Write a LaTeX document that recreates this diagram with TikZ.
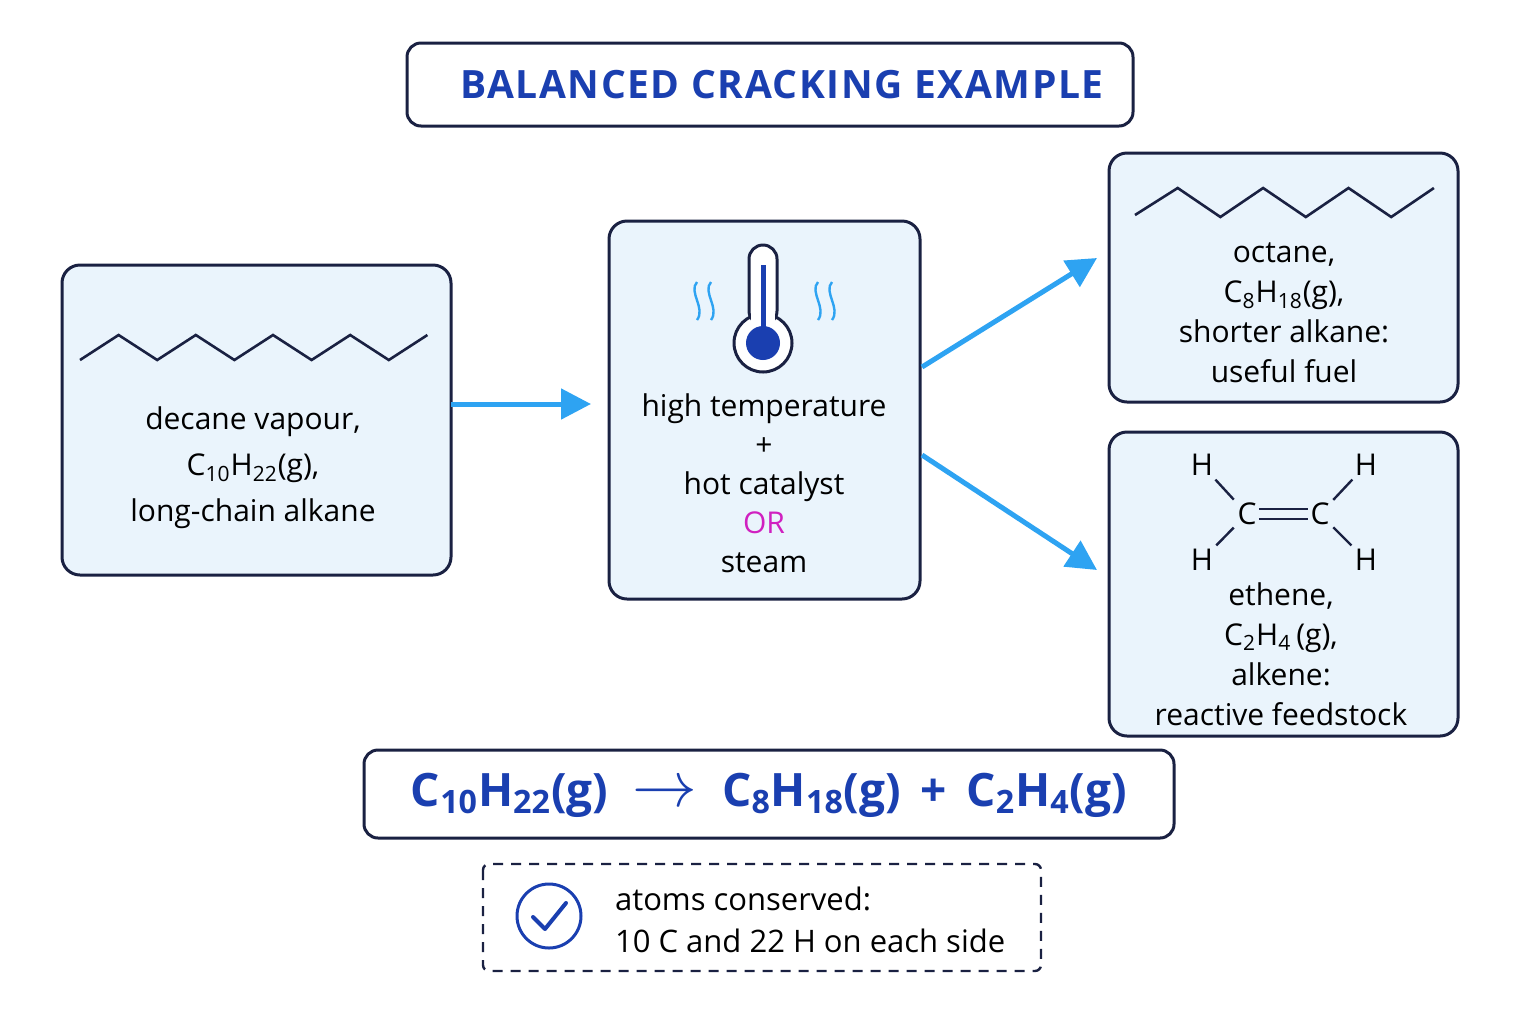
\documentclass[tikz,border=0pt]{standalone}
\usepackage{fontspec}
\setmainfont{Open Sans}
\newfontfamily\titlefont[LetterSpace=4]{Open Sans}
\usetikzlibrary{arrows.meta}
\definecolor{navy}{HTML}{1A2142}
\definecolor{boxfill}{HTML}{EAF4FC}
\definecolor{flow}{HTML}{2EA3F2}
\definecolor{ink}{HTML}{1A3FB0}
\definecolor{ormag}{HTML}{D020C0}
\begin{document}
\begin{tikzpicture}[x=0.5pt,y=-0.5pt,
  box/.style={draw=navy,line width=1.5pt,rounded corners=9pt,fill=boxfill},
  plain box/.style={draw=navy,line width=1.5pt,rounded corners=7pt,fill=white},
  txt/.style={align=center,text=black,font=\fontsize{15}{20}\selectfont},
  flow arrow/.style={draw=flow,line width=2.5pt,-{Triangle[length=15pt,width=15pt]}},
  chain/.style={navy,line width=1.3pt,line join=miter},
  atom/.style={font=\fontsize{15}{18}\selectfont,inner sep=1pt}]
  \useasboundingbox (0,0) rectangle (1536,1024);

  % title
  \draw[plain box] (407,43) rectangle (1133,126);
  \node[text=ink,font=\titlefont\bfseries\fontsize{19.5}{22}\selectfont] (title) at (782,85) {BALANCED CRACKING EXAMPLE};

  % decane
  \draw[box] (62,265) rectangle (451,575);
  \coordinate (decane out) at (451,404);
  \draw[chain] (80,360) \foreach \i in {1,...,9} {-- ({80+\i*38.6},{360-25*mod(\i,2)})};
  \node[txt,font=\fontsize{15}{23}\selectfont] (decane) at (253,468) {decane vapour,\\C\textsubscript{10}H\textsubscript{22}(g),\\long-chain alkane};

  % conditions
  \draw[box] (609,221) rectangle (920,599);
  \coordinate (cond in) at (609,404);
  \coordinate (cond up) at (922,367);
  \coordinate (cond down) at (922,455);
  \draw[navy,line width=1.5pt,fill=white] (763,343) circle (29);
  \draw[navy,line width=1.5pt,fill=white,rounded corners=7pt] (749,245) rectangle (777,325);
  \fill[white] (751,305) rectangle (775,336);
  \fill[ink] (763,343) circle (17);
  \draw[ink,line width=2.5pt] (763,265) -- (763,335);
  \foreach \x in {697,711,818,832}
    \draw[flow,line width=1.2pt] (\x,282) .. controls (\x-9,292) and (\x+9,308) .. (\x,320);
  \node[txt,font=\fontsize{15}{19.5}\selectfont] (cond) at (764,483) {high temperature\\+\\hot catalyst\\\textcolor{ormag}{OR}\\steam};

  % octane
  \draw[box] (1109,153) rectangle (1458,402);
  \coordinate (octane in) at (1097,258);
  \draw[chain] (1135,215) \foreach \i in {1,...,7} {-- ({1135+\i*42.7},{217-29*mod(\i,2)})};
  \node[txt] (octane) at (1284,313) {octane,\\C\textsubscript{8}H\textsubscript{18}(g),\\shorter alkane:\\useful fuel};

  % ethene
  \draw[box] (1109,432) rectangle (1458,736);
  \coordinate (ethene in) at (1097,570);
  \node[atom] (c1) at (1247,514) {C};
  \node[atom] (c2) at (1320,514) {C};
  \node[atom] (h1) at (1202,465) {H};
  \node[atom] (h2) at (1202,560) {H};
  \node[atom] (h3) at (1366,465) {H};
  \node[atom] (h4) at (1366,560) {H};
  \foreach \a/\b in {h1/c1,h2/c1,h3/c2,h4/c2}
    \draw[navy,line width=1.2pt,shorten >=1pt,shorten <=1pt] (\a) -- (\b);
  \draw[navy,line width=1.2pt] ([yshift=-2.5pt]c1.east) -- ([yshift=-2.5pt]c2.west);
  \draw[navy,line width=1.2pt] ([yshift=2.5pt]c1.east) -- ([yshift=2.5pt]c2.west);
  \node[txt] (ethene) at (1281,654) {ethene,\\C\textsubscript{2}H\textsubscript{4}\,(g),\\alkene:\\reactive feedstock};

  % arrows
  \draw[flow arrow] (decane out) -- ([xshift=-9pt]cond in);
  \draw[flow arrow] (cond up) -- (octane in);
  \draw[flow arrow] (cond down) -- (ethene in);

  % equation
  \draw[plain box] (364,750) rectangle (1174,838);
  \node[text=ink,font=\bfseries\fontsize{23}{26}\selectfont] (equation) at (769,795)
    {C\textsubscript{10}H\textsubscript{22}(g) \;\scalebox{1.3}{$\rightarrow$}\; C\textsubscript{8}H\textsubscript{18}(g) \,+\, C\textsubscript{2}H\textsubscript{4}(g)};

  % check
  \draw[navy,line width=1.2pt,dash pattern=on 5pt off 4pt,rounded corners=3pt] (483,864) rectangle (1041,971);
  \draw[ink,line width=1.5pt] (549,916) circle (32);
  \draw[ink,line width=2pt,line cap=round,line join=round] (533,917) -- (545,929) -- (566,903);
  \node[anchor=west,align=left,font=\fontsize{15.5}{21}\selectfont] (check) at (608,920) {atoms conserved:\\10 C and 22 H on each side};
\end{tikzpicture}
\end{document}
